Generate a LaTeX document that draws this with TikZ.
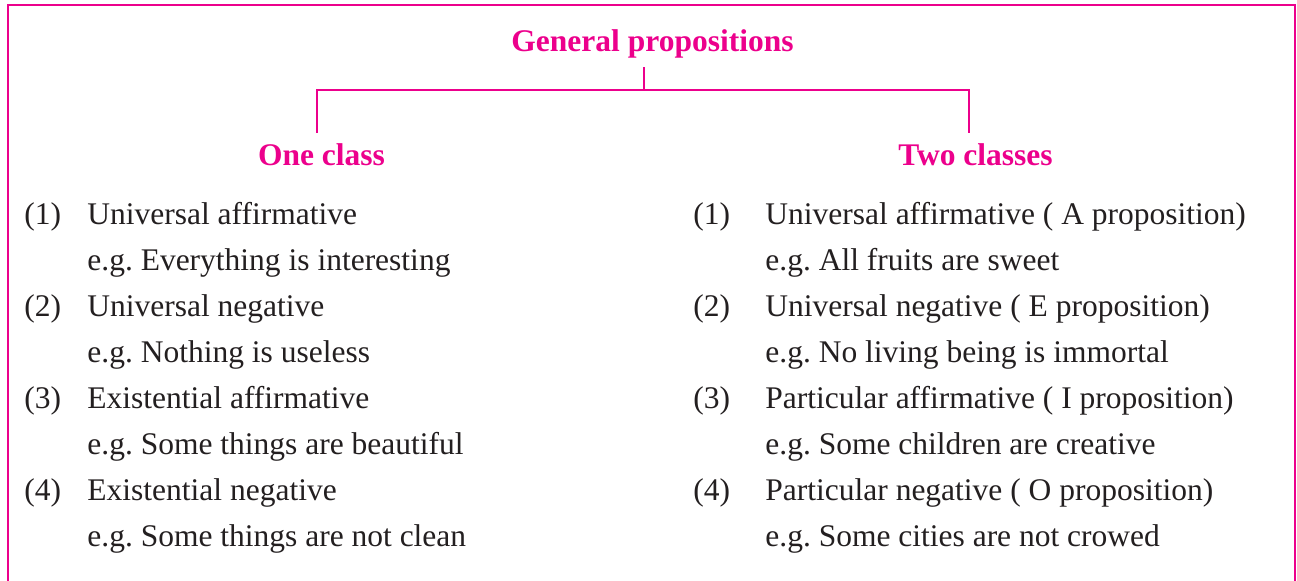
\documentclass[tikz,border=0pt]{standalone}
\usepackage{fontspec}
\setmainfont{Liberation Serif}
\usepackage{xcolor}
\usetikzlibrary{positioning}
\definecolor{propmag}{HTML}{EC008C}
\definecolor{bodytxt}{HTML}{231F20}
\frenchspacing

\begin{document}
\begin{tikzpicture}[x=0.5pt,y=-0.5pt,
  every node/.style={inner sep=0pt, anchor=base west},
  head/.style={anchor=base, font=\fontsize{15.75}{19}\selectfont\bfseries, text=propmag},
  item/.style={font=\fontsize{15.75}{19}\selectfont, text=bodytxt},
  tree/.style={draw=propmag, line width=1.1pt}]
% 1 unit = 1 px of the 1297 x 581 frame, y pointing down
\useasboundingbox (0,0) rectangle (1297,581);
\draw[propmag, line width=1pt] (8,5.5) rectangle (1294.5,600);
% headings
\node[head, inner sep=4pt] (gen) at (652.5,52) {General propositions};
\node[head] (one) at (321.5,166) {One class};
\node[head] (two) at (975.5,166) {Two classes};
\coordinate (fork) at (644,90);
\coordinate (lfoot) at (317,133);
\coordinate (rfoot) at (969,133);
\draw[tree] (gen.south -| fork) -- (fork);
\draw[tree] (lfoot) |- (fork) -| (rfoot);
% one class
\node[item] (lnum1) at (24,225) {(1)};
\node[item] (litem1) at (87,225) {Universal affirmative};
\node[item] (lex1) at (87,271) {e.g. Everything is interesting};
\node[item] (lnum2) at (24,317) {(2)};
\node[item] (litem2) at (87,317) {Universal negative};
\node[item] (lex2) at (87,363) {e.g. Nothing is useless};
\node[item] (lnum3) at (24,409) {(3)};
\node[item] (litem3) at (87,409) {Existential affirmative};
\node[item] (lex3) at (87,455) {e.g. Some things are beautiful};
\node[item] (lnum4) at (24,501) {(4)};
\node[item] (litem4) at (87,501) {Existential negative};
\node[item] (lex4) at (87,547) {e.g. Some things are not clean};
% two classes
\node[item] (rnum1) at (693,225) {(1)};
\node[item] (ritem1) at (765,225) {Universal affirmative ( A proposition)};
\node[item] (rex1) at (765,271) {e.g. All fruits are sweet};
\node[item] (rnum2) at (693,317) {(2)};
\node[item] (ritem2) at (765,317) {Universal negative ( E proposition)};
\node[item] (rex2) at (765,363) {e.g. No living being is immortal};
\node[item] (rnum3) at (693,409) {(3)};
\node[item] (ritem3) at (765,409) {Particular affirmative ( I proposition)};
\node[item] (rex3) at (765,455) {e.g. Some children are creative};
\node[item] (rnum4) at (693,501) {(4)};
\node[item] (ritem4) at (765,501) {Particular negative ( O proposition)};
\node[item] (rex4) at (765,547) {e.g. Some cities are not crowed};
\end{tikzpicture}
\end{document}
